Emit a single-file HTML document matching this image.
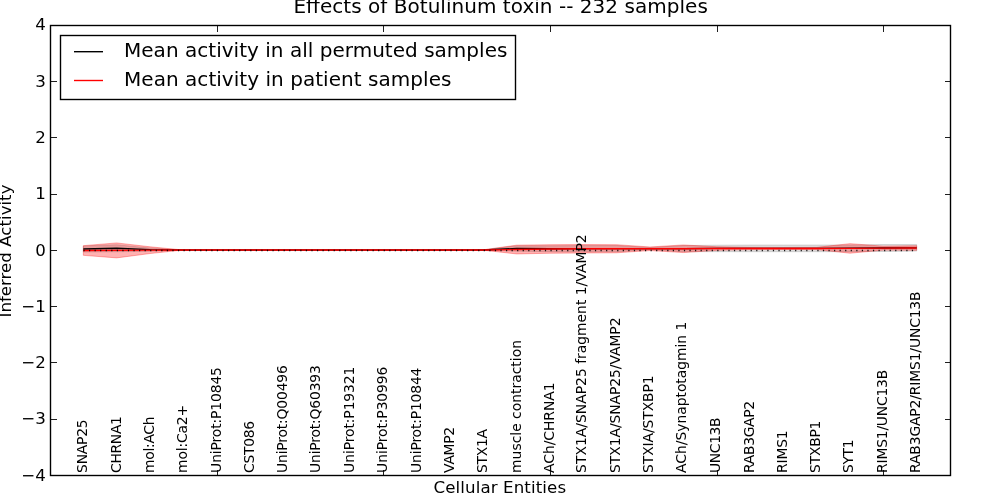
<!DOCTYPE html>
<html><head><meta charset="utf-8"><title>Effects of Botulinum toxin</title>
<style>
html,body{margin:0;padding:0;background:#fff;}
body{width:1000px;height:500px;overflow:hidden;}
svg{display:block;}
text{font-family:"DejaVu Sans","Liberation Sans",sans-serif;fill:#000;}
.tk{font-size:16.67px;}
.ent{font-size:13.9px;}
.leg{font-size:20px;}
.ttl{font-size:20px;}
.axl{font-size:16.67px;}
.crisp{shape-rendering:crispEdges;}
</style></head><body>
<svg width="1000" height="500" viewBox="0 0 1000 500">
<rect width="1000" height="500" fill="#fff"/>

<text class="ttl" x="293.45" y="13.2" textLength="414.4" lengthAdjust="spacing">Effects of Botulinum toxin -- 232 samples</text>
<polygon points="83.33,245.89 116.67,244.77 150.00,247.97 183.33,250.00 216.67,250.00 250.00,250.00 283.33,250.00 316.67,250.00 350.00,250.00 383.33,250.00 416.67,250.00 450.00,250.00 483.33,249.89 516.67,245.78 550.00,245.78 583.33,245.56 616.67,245.56 650.00,247.53 683.33,245.56 716.67,245.16 750.00,244.99 783.33,244.99 816.67,244.99 850.00,244.94 883.33,244.54 916.67,244.60 916.67,251.12 883.33,251.52 850.00,251.69 816.67,251.74 783.33,251.74 750.00,251.74 716.67,251.69 683.33,251.74 650.00,249.78 616.67,251.74 583.33,251.74 550.00,251.63 516.67,251.18 483.33,250.11 450.00,250.00 416.67,250.00 383.33,250.00 350.00,250.00 316.67,250.00 283.33,250.00 250.00,250.00 216.67,250.00 183.33,250.00 150.00,251.35 116.67,251.74 83.33,252.08" fill="#000" fill-opacity="0.13" stroke="#000" stroke-opacity="0.13" stroke-width="1"/>
<polygon points="83.33,245.67 116.67,242.91 150.00,246.79 183.33,250.00 216.67,250.00 250.00,250.00 283.33,250.00 316.67,250.00 350.00,250.00 383.33,250.00 416.67,250.00 450.00,250.00 483.33,249.78 516.67,245.16 550.00,244.71 583.33,244.54 616.67,244.71 650.00,246.96 683.33,244.94 716.67,246.74 750.00,247.36 783.33,247.47 816.67,247.36 850.00,243.64 883.33,246.17 916.67,245.72 916.67,250.22 883.33,250.11 850.00,253.21 816.67,249.61 783.33,249.49 750.00,249.61 716.67,250.34 683.33,252.59 650.00,250.56 616.67,252.81 583.33,252.98 550.00,253.26 516.67,253.94 483.33,250.22 450.00,250.00 416.67,250.00 383.33,250.00 350.00,250.00 316.67,250.00 283.33,250.00 250.00,250.00 216.67,250.00 183.33,250.00 150.00,253.54 116.67,257.88 83.33,255.34" fill="#f00" fill-opacity="0.3" stroke="#f00" stroke-opacity="0.3" stroke-width="1"/>
<polyline fill="none" stroke="#000" stroke-width="1.39" points="83.33,248.99 116.67,248.26 150.00,249.66 183.33,250.00 216.67,250.00 250.00,250.00 283.33,250.00 316.67,250.00 350.00,250.00 383.33,250.00 416.67,250.00 450.00,250.00 483.33,250.00 516.67,248.48 550.00,248.71 583.33,248.65 616.67,248.65 650.00,248.65 683.33,248.65 716.67,248.43 750.00,248.37 783.33,248.37 816.67,248.37 850.00,248.31 883.33,248.03 916.67,247.86"/>
<polyline fill="none" stroke="#f00" stroke-width="1.39" points="83.33,250.51 116.67,250.39 150.00,250.17 183.33,250.00 216.67,250.00 250.00,250.00 283.33,250.00 316.67,250.00 350.00,250.00 383.33,250.00 416.67,250.00 450.00,250.00 483.33,250.00 516.67,249.55 550.00,248.99 583.33,248.76 616.67,248.76 650.00,248.76 683.33,248.76 716.67,248.54 750.00,248.48 783.33,248.48 816.67,248.48 850.00,248.43 883.33,248.14 916.67,247.97"/>
<line x1="83.33" y1="250.50" x2="916.67" y2="250.50" stroke="#000" stroke-width="1.39" stroke-dasharray="1.2,4.36" stroke-dashoffset="-0.1" stroke-opacity="0.9"/>
<rect x="50.5" y="25.5" width="900.0" height="450.0" fill="none" stroke="#000" stroke-width="1.39"/>
<g class="crisp" stroke="#000" stroke-opacity="0.88" stroke-width="1">
<line x1="217.5" y1="475.5" x2="217.5" y2="469.5"/>
<line x1="217.5" y1="25.5" x2="217.5" y2="31.5"/>
<line x1="383.5" y1="475.5" x2="383.5" y2="469.5"/>
<line x1="383.5" y1="25.5" x2="383.5" y2="31.5"/>
<line x1="550.5" y1="475.5" x2="550.5" y2="469.5"/>
<line x1="550.5" y1="25.5" x2="550.5" y2="31.5"/>
<line x1="717.5" y1="475.5" x2="717.5" y2="469.5"/>
<line x1="717.5" y1="25.5" x2="717.5" y2="31.5"/>
<line x1="883.5" y1="475.5" x2="883.5" y2="469.5"/>
<line x1="883.5" y1="25.5" x2="883.5" y2="31.5"/>
<line x1="50.5" y1="419.5" x2="56.5" y2="419.5"/>
<line x1="950.5" y1="419.5" x2="944.5" y2="419.5"/>
<line x1="50.5" y1="362.5" x2="56.5" y2="362.5"/>
<line x1="950.5" y1="362.5" x2="944.5" y2="362.5"/>
<line x1="50.5" y1="306.5" x2="56.5" y2="306.5"/>
<line x1="950.5" y1="306.5" x2="944.5" y2="306.5"/>
<line x1="50.5" y1="250.5" x2="56.5" y2="250.5"/>
<line x1="950.5" y1="250.5" x2="944.5" y2="250.5"/>
<line x1="50.5" y1="194.5" x2="56.5" y2="194.5"/>
<line x1="950.5" y1="194.5" x2="944.5" y2="194.5"/>
<line x1="50.5" y1="137.5" x2="56.5" y2="137.5"/>
<line x1="950.5" y1="137.5" x2="944.5" y2="137.5"/>
<line x1="50.5" y1="81.5" x2="56.5" y2="81.5"/>
<line x1="950.5" y1="81.5" x2="944.5" y2="81.5"/>
</g>
<text class="tk" x="45.8" y="480.50" text-anchor="end">−4</text>
<text class="tk" x="45.8" y="424.25" text-anchor="end">−3</text>
<text class="tk" x="45.8" y="368.00" text-anchor="end">−2</text>
<text class="tk" x="45.8" y="311.75" text-anchor="end">−1</text>
<text class="tk" x="45.8" y="255.50" text-anchor="end">0</text>
<text class="tk" x="45.8" y="199.25" text-anchor="end">1</text>
<text class="tk" x="45.8" y="143.00" text-anchor="end">2</text>
<text class="tk" x="45.8" y="86.75" text-anchor="end">3</text>
<text class="tk" x="45.8" y="29.70" text-anchor="end">4</text>
<text class="ent" transform="translate(86.63,472.90) rotate(-90)" textLength="53.57" lengthAdjust="spacing">SNAP25</text>
<text class="ent" transform="translate(120.57,472.90) rotate(-90)" textLength="56.83" lengthAdjust="spacing">CHRNA1</text>
<text class="ent" transform="translate(154.30,472.90) rotate(-90)" textLength="56.44" lengthAdjust="spacing">mol:ACh</text>
<text class="ent" transform="translate(187.03,472.90) rotate(-90)" textLength="68.07" lengthAdjust="spacing">mol:Ca2+</text>
<text class="ent" transform="translate(220.57,472.90) rotate(-90)" textLength="105.86" lengthAdjust="spacing">UniProt:P10845</text>
<text class="ent" transform="translate(254.30,472.90) rotate(-90)" textLength="52.12" lengthAdjust="spacing">CST086</text>
<text class="ent" transform="translate(286.63,472.90) rotate(-90)" textLength="107.72" lengthAdjust="spacing">UniProt:Q00496</text>
<text class="ent" transform="translate(320.17,472.90) rotate(-90)" textLength="107.72" lengthAdjust="spacing">UniProt:Q60393</text>
<text class="ent" transform="translate(353.70,472.90) rotate(-90)" textLength="106.36" lengthAdjust="spacing">UniProt:P19321</text>
<text class="ent" transform="translate(387.03,472.90) rotate(-90)" textLength="106.36" lengthAdjust="spacing">UniProt:P30996</text>
<text class="ent" transform="translate(420.57,472.90) rotate(-90)" textLength="105.36" lengthAdjust="spacing">UniProt:P10844</text>
<text class="ent" transform="translate(454.10,472.90) rotate(-90)" textLength="46.03" lengthAdjust="spacing">VAMP2</text>
<text class="ent" transform="translate(487.03,472.90) rotate(-90)" textLength="43.97" lengthAdjust="spacing">STX1A</text>
<text class="ent" transform="translate(520.97,472.90) rotate(-90)" textLength="132.89" lengthAdjust="spacing">muscle contraction</text>
<text class="ent" transform="translate(553.70,472.90) rotate(-90)" textLength="90.47" lengthAdjust="spacing">ACh/CHRNA1</text>
<text class="ent" transform="translate(586.43,472.90) rotate(-90)" textLength="238.53" lengthAdjust="spacing">STX1A/SNAP25 fragment 1/VAMP2</text>
<text class="ent" transform="translate(619.97,472.90) rotate(-90)" textLength="155.41" lengthAdjust="spacing">STX1A/SNAP25/VAMP2</text>
<text class="ent" transform="translate(653.10,472.90) rotate(-90)" textLength="97.47" lengthAdjust="spacing">STXIA/STXBP1</text>
<text class="ent" transform="translate(686.43,472.90) rotate(-90)" textLength="151.28" lengthAdjust="spacing">ACh/Synaptotagmin 1</text>
<text class="ent" transform="translate(719.97,472.90) rotate(-90)" textLength="55.47" lengthAdjust="spacing">UNC13B</text>
<text class="ent" transform="translate(753.70,472.90) rotate(-90)" textLength="72.05" lengthAdjust="spacing">RAB3GAP2</text>
<text class="ent" transform="translate(787.03,472.90) rotate(-90)" textLength="42.59" lengthAdjust="spacing">RIMS1</text>
<text class="ent" transform="translate(819.97,472.90) rotate(-90)" textLength="52.36" lengthAdjust="spacing">STXBP1</text>
<text class="ent" transform="translate(853.30,472.90) rotate(-90)" textLength="33.42" lengthAdjust="spacing">SYT1</text>
<text class="ent" transform="translate(886.63,472.90) rotate(-90)" textLength="103.13" lengthAdjust="spacing">RIMS1/UNC13B</text>
<text class="ent" transform="translate(919.97,472.90) rotate(-90)" textLength="181.46" lengthAdjust="spacing">RAB3GAP2/RIMS1/UNC13B</text>
<text class="axl" x="433.5" y="493" textLength="132.6" lengthAdjust="spacing">Cellular Entities</text>
<text class="axl" transform="translate(10.8,251) rotate(-90)" text-anchor="middle">Inferred Activity</text>
<rect x="60.5" y="35.5" width="455" height="64" fill="#fff" stroke="#000" stroke-width="1.39"/>
<line x1="74" y1="51.7" x2="103" y2="51.7" stroke="#000" stroke-width="1.39"/>
<line x1="74" y1="80.5" x2="103" y2="80.5" stroke="#f00" stroke-width="1.39"/>
<text class="leg" x="124" y="57" textLength="383.4" lengthAdjust="spacing">Mean activity in all permuted samples</text>
<text class="leg" x="124" y="85.7" textLength="327.4" lengthAdjust="spacing">Mean activity in patient samples</text>
</svg></body></html>
